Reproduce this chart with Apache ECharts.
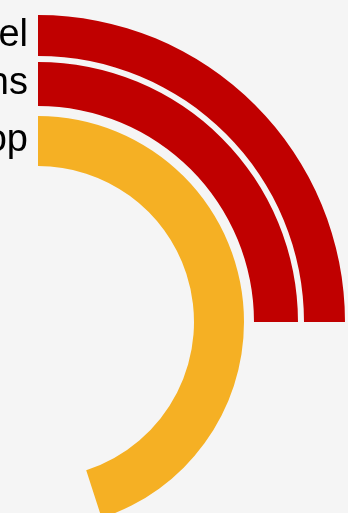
<!DOCTYPE html>
<html>
<head>
<meta charset="utf-8">
<script src="https://cdn.jsdelivr.net/npm/echarts@6/dist/echarts.min.js"></script>
<style>
html,body{margin:0;padding:0;background:#f5f5f5;}
#c{width:348px;height:513px;}
</style>
</head>
<body>
<div id="c"></div>
<script>
// data (outer to inner)
const categories = ['Travel', 'Subscriptions', 'Shop'];
const values = [25, 25, 45];           // percent of a full circle
const colors = ['#c00000', '#c00000', '#f5b024'];
const angleMax = 100;

// ring geometry (inner, outer radius in px), outer to inner
const rings = [[266, 307], [216, 260], [156, 206]];
const center = [38, 322];

const polar = [], radiusAxis = [], angleAxis = [], series = [];
categories.forEach((cat, i) => {
  polar.push({ center: center, radius: rings[i] });
  radiusAxis.push({
    polarIndex: i, type: 'category', data: [cat],
    axisLine: { show: false }, axisTick: { show: false }, splitLine: { show: false },
    axisLabel: { show: true, color: '#000', fontSize: 38, fontFamily: 'Liberation Sans, Arial, sans-serif', margin: 10 }
  });
  angleAxis.push({
    polarIndex: i, type: 'value', min: 0, max: angleMax, startAngle: 90, clockwise: true,
    show: false
  });
  series.push({
    type: 'bar', coordinateSystem: 'polar', polarIndex: i,
    data: [values[i]], barCategoryGap: '0%',
    itemStyle: { color: colors[i] }, silent: true
  });
});

const chart = echarts.init(document.getElementById('c'), null, { renderer: 'canvas' });
chart.setOption({
  backgroundColor: '#f5f5f5',
  animation: false,
  polar, radiusAxis, angleAxis, series
});
</script>
</body>
</html>
